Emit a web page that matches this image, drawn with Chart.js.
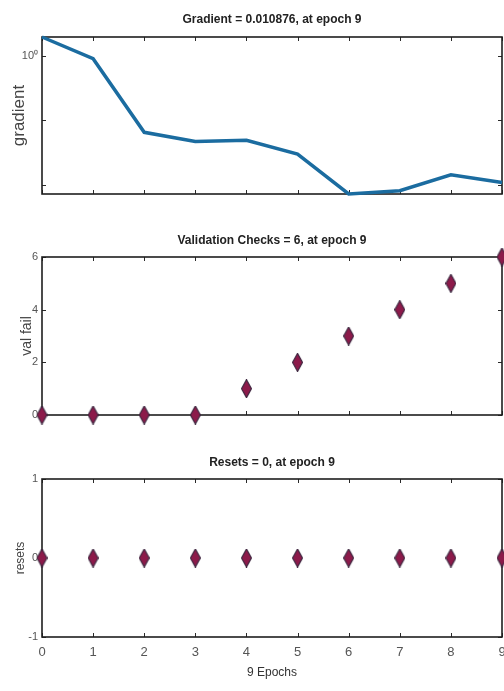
<!DOCTYPE html>
<html><head><meta charset="utf-8">
<script src="https://cdn.jsdelivr.net/npm/chart.js@4/dist/chart.umd.min.js"></script>
<style>
html,body{margin:0;padding:0;background:#fff;width:504px;height:691px;overflow:hidden}
canvas{position:absolute;left:0}
</style></head><body>
<canvas id="c1" width="504" height="215" style="top:0px"></canvas>
<canvas id="c2" width="504" height="220" style="top:215px"></canvas>
<canvas id="c3" width="504" height="256" style="top:435px"></canvas>
<script>
// ---- data ----
const epochs = [0, 1, 2, 3, 4, 5, 6, 7, 8, 9];
const gradientValues = [1.95, 0.90, 0.065, 0.047, 0.049, 0.030, 0.0072, 0.0081, 0.0143, 0.010876];
const valFailValues = [0, 0, 0, 0, 1, 2, 3, 4, 5, 6];
const resetValues = [0, 0, 0, 0, 0, 0, 0, 0, 0, 0];
const xTickValues = [0, 1, 2, 3, 4, 5, 6, 7, 8, 9];
const gradTickValues = [0.01, 0.1, 1];
const gradTickLabels = ['', '', '10\u2070'];
const valTickValues = [0, 2, 4, 6];
const resetTickValues = [-1, 0, 1];
const plotTitles = ['Gradient = 0.010876, at epoch 9', 'Validation Checks = 6, at epoch 9', 'Resets = 0, at epoch 9'];
const yTitles = ['gradient', 'val fail', 'resets'];
const xTitle = '9 Epochs';

// ---- styling helpers ----
const NARROW = '"Liberation Sans Narrow", "Arial Narrow", "Liberation Sans", Arial, sans-serif';
const SANS = '"Liberation Sans", Arial, sans-serif';

function diamondImage() {
  const c = document.createElement('canvas');
  c.width = 11; c.height = 19;
  const g = c.getContext('2d');
  g.beginPath();
  g.moveTo(5.5, 0.5); g.lineTo(10.5, 9.5); g.lineTo(5.5, 18.5); g.lineTo(0.5, 9.5); g.closePath();
  g.fillStyle = '#8c1a4a'; g.fill();
  g.lineWidth = 1.2; g.strokeStyle = '#3d2740'; g.stroke();
  return c;
}
const diamond = diamondImage();

const boxPlugin = {
  id: 'boxTicks',
  beforeDatasetsDraw(chart) {
    const {ctx, chartArea: a, scales} = chart;
    ctx.save();
    ctx.strokeStyle = '#2a2a2a';
    ctx.lineWidth = 1;
    const L = 4;
    scales.x.ticks.forEach(t => {
      const px = Math.round(scales.x.getPixelForValue(t.value)) + 0.5;
      ctx.beginPath();
      ctx.moveTo(px, a.top); ctx.lineTo(px, a.top + L);
      ctx.moveTo(px, a.bottom); ctx.lineTo(px, a.bottom - L);
      ctx.stroke();
    });
    scales.y.ticks.forEach(t => {
      const py = Math.round(scales.y.getPixelForValue(t.value)) + 0.5;
      ctx.beginPath();
      ctx.moveTo(a.left, py); ctx.lineTo(a.left + L, py);
      ctx.moveTo(a.right, py); ctx.lineTo(a.right - L, py);
      ctx.stroke();
    });
    ctx.lineWidth = 1.6;
    ctx.strokeStyle = '#1e1e1e';
    ctx.strokeRect(a.left, a.top, a.right - a.left, a.bottom - a.top);
    ctx.restore();
  },
  afterDraw(chart, args, opts) {
    const {ctx, chartArea: a} = chart;
    ctx.save();
    ctx.fillStyle = '#222';
    ctx.font = 'bold 12px ' + NARROW;
    ctx.textAlign = 'center';
    ctx.textBaseline = 'middle';
    ctx.fillText(opts.text, (a.left + a.right) / 2, opts.y);
    ctx.restore();
  }
};

function makeChart(id, cfg) {
  const xOpts = {
    type: 'linear', min: 0, max: 9,
    grid: {display: false, drawTicks: false},
    border: {display: false},
    afterBuildTicks: s => { s.ticks = xTickValues.map(v => ({value: v})); },
    afterFit: s => { s.height = cfg.xHeight; s.paddingLeft = 0; s.paddingRight = 0; },
    ticks: {
      display: cfg.showXLabels, padding: 8, color: '#555',
      font: {family: NARROW, size: 13},
      autoSkip: false, maxRotation: 0
    },
    title: cfg.showXLabels ? {display: true, text: xTitle, color: '#333',
      font: {family: NARROW, size: 12}, padding: {top: 0, bottom: 11}} : {display: false}
  };
  const yOpts = Object.assign({
    grid: {display: false, drawTicks: false},
    border: {display: false},
    afterFit: s => { s.width = 42; s.paddingTop = 0; s.paddingBottom = 0; },
    ticks: {padding: 4, color: '#555', font: {family: NARROW, size: 11}, autoSkip: false},
    title: {display: true, text: cfg.yTitle, color: '#444',
      font: {family: SANS, size: cfg.yTitleSize}, padding: {top: cfg.yTitlePad, bottom: 0}}
  }, cfg.y);
  return new Chart(document.getElementById(id), {
    type: 'line',
    data: {datasets: [cfg.dataset]},
    options: {
      responsive: false, animation: false, devicePixelRatio: 1,
      layout: {autoPadding: false, padding: {left: 0, right: 2, top: cfg.areaTop, bottom: 0}},
      plugins: {
        legend: {display: false}, tooltip: {enabled: false}, title: {display: false},
        boxTicks: {text: cfg.title, y: cfg.titleY}
      },
      scales: {x: xOpts, y: yOpts}
    },
    plugins: [boxPlugin]
  });
}

// Gradient (log scale)
makeChart('c1', {
  title: plotTitles[0], titleY: 20, areaTop: 37,
  xHeight: 21, showXLabels: false,
  yTitle: yTitles[0], yTitleSize: 17, yTitlePad: 9,
  y: {
    type: 'logarithmic',
    min: Math.min(...gradientValues), max: Math.max(...gradientValues),
    afterBuildTicks: s => { s.ticks = gradTickValues.map(v => ({value: v})); },
    ticks: {padding: 4, color: '#555', font: {family: NARROW, size: 11}, autoSkip: false,
      callback: (v, i) => gradTickLabels[i]}
  },
  dataset: {
    data: epochs.map((e, i) => ({x: e, y: gradientValues[i]})),
    borderColor: '#1b6ca0', borderWidth: 3.5, pointRadius: 0, tension: 0, clip: false
  }
});

// Validation checks
makeChart('c2', {
  title: plotTitles[1], titleY: 26, areaTop: 42,
  xHeight: 20, showXLabels: false,
  yTitle: yTitles[1], yTitleSize: 14, yTitlePad: 19,
  y: {
    type: 'linear', min: 0, max: 6,
    afterBuildTicks: s => { s.ticks = valTickValues.map(v => ({value: v})); },
  },
  dataset: {
    data: epochs.map((e, i) => ({x: e, y: valFailValues[i]})),
    showLine: false, pointStyle: diamond, pointRadius: 9, clip: false
  }
});

// Resets
makeChart('c3', {
  title: plotTitles[2], titleY: 28, areaTop: 44,
  xHeight: 54, showXLabels: true,
  yTitle: yTitles[2], yTitleSize: 12, yTitlePad: 13,
  y: {
    type: 'linear', min: -1, max: 1,
    afterBuildTicks: s => { s.ticks = resetTickValues.map(v => ({value: v})); },
  },
  dataset: {
    data: epochs.map((e, i) => ({x: e, y: resetValues[i]})),
    showLine: false, pointStyle: diamond, pointRadius: 9, clip: false
  }
});
</script>
</body></html>
